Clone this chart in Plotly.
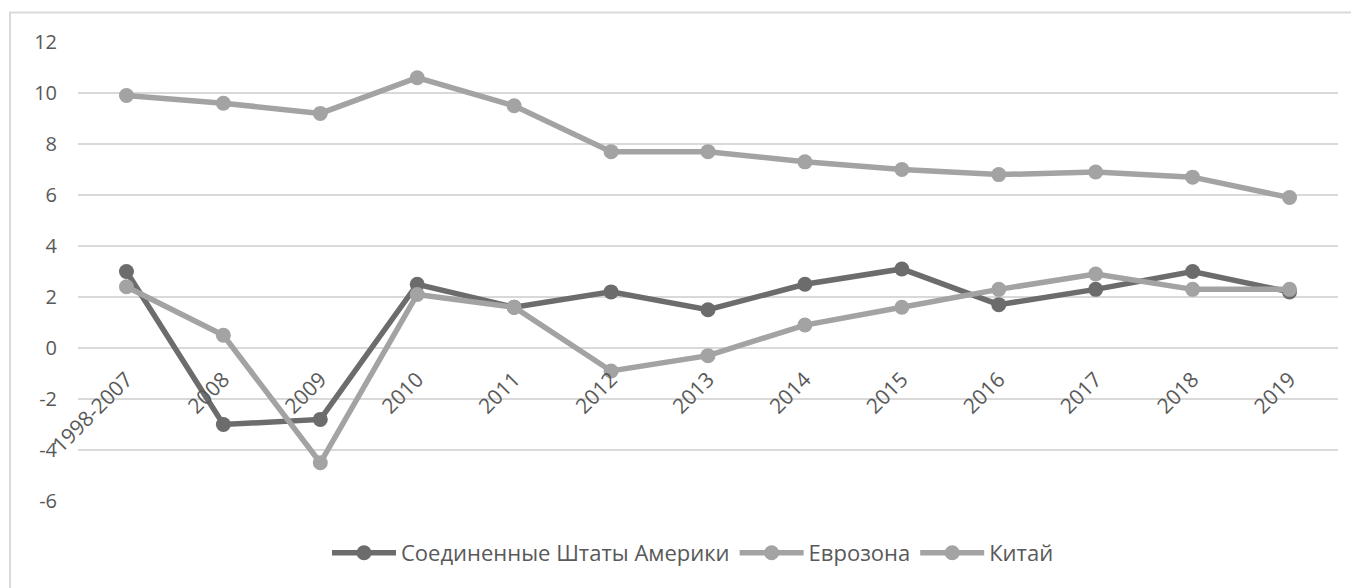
import plotly.graph_objects as go

categories = ["1998-2007", "2008", "2009", "2010", "2011", "2012", "2013",
              "2014", "2015", "2016", "2017", "2018", "2019"]
usa = [3.0, -3.0, -2.8, 2.5, 1.6, 2.2, 1.5, 2.5, 3.1, 1.7, 2.3, 3.0, 2.2]
eurozone = [2.4, 0.5, -4.5, 2.1, 1.6, -0.9, -0.3, 0.9, 1.6, 2.3, 2.9, 2.3, 2.3]
china = [9.9, 9.6, 9.2, 10.6, 9.5, 7.7, 7.7, 7.3, 7.0, 6.8, 6.9, 6.7, 5.9]
names = ["Соединенные Штаты Америки", "Еврозона", "Китай"]
y_ticks = [-6, -4, -2, 0, 2, 4, 6, 8, 10, 12]
y_tick_text = ["-6", "-4", "-2", "0", "2", "4", "6", "8", "10", "12"]
colors = ["#6c6c6c", "#a3a3a3", "#a3a3a3"]

OFF = 8  # default body margin of the page
W, H = 1359, 588
# desired plot area in screen pixels
PX0, PX1, PY0, PY1 = 78, 1338, 41.5, 501
ml = PX0 - OFF
mt = PY0 - OFF
pw = PX1 - PX0
ph = PY1 - PY0
mr = W - ml - pw
mb = H - mt - ph

fig = go.Figure()
for name, vals, col in zip(names, [usa, eurozone, china], colors):
    fig.add_trace(go.Scatter(
        x=categories, y=vals, name=name, mode="lines+markers",
        line=dict(color=col, width=5.5),
        marker=dict(color=col, size=15),
    ))


def px_x(p):
    return (p - PX0) / pw


def px_y(p):
    return (PY1 - p) / ph


fig.add_shape(type="rect", xref="paper", yref="paper",
              x0=px_x(10), x1=px_x(1375), y0=px_y(12), y1=px_y(610),
              line=dict(color="#d9d9d9", width=2), fillcolor="rgba(0,0,0,0)",
              layer="below")
fig.add_shape(type="rect", xref="paper", yref="paper",
              x0=px_x(689), x1=px_x(691), y0=px_y(4), y1=px_y(6),
              line=dict(width=0), fillcolor="black")

fig.update_layout(
    width=W, height=H,
    margin=dict(l=ml, r=mr, t=mt, b=mb, pad=0),
    plot_bgcolor="white", paper_bgcolor="white",
    font=dict(family="Open Sans", color="#595959", size=18),
    showlegend=True,
    legend=dict(orientation="h", x=px_x(693), xanchor="center",
                y=px_y(553), yanchor="middle",
                font=dict(family="Open Sans", size=22, color="#595959"),
                itemwidth=64, tracegroupgap=0),
    xaxis=dict(type="category", anchor="free", position=6 / 18,
               tickangle=-45, showgrid=False, showline=False, zeroline=False,
               ticklabelstandoff=14,
               tickfont=dict(family="Open Sans", size=21, color="#595959"),
               range=[-0.5, len(categories) - 0.5]),
    yaxis=dict(range=[-6, 12], tickvals=y_ticks, ticktext=y_tick_text,
               showgrid=True, gridcolor="#d9d9d9",
               gridwidth=1.5, zeroline=False, showline=False,
               ticklabelstandoff=20,
               tickfont=dict(family="Open Sans", size=20, color="#595959")),
)

fig.write_html("out.html")
